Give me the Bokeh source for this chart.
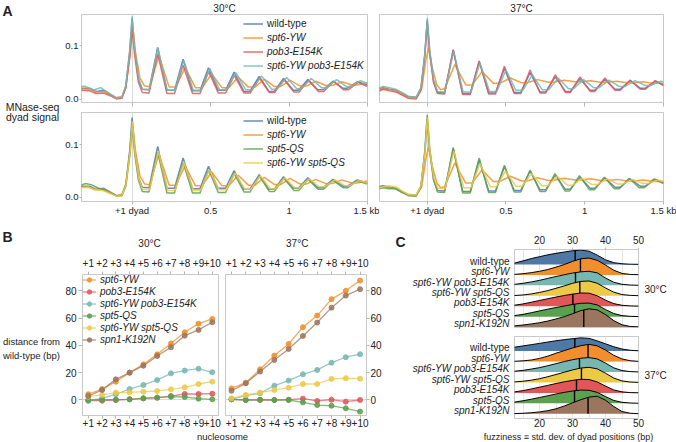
import numpy as np
from bokeh.plotting import figure
from bokeh.layouts import row, column
from bokeh.models import Range1d, FixedTicker, LinearAxis, Legend, LegendItem
from bokeh.core.properties import value
from bokeh.embed import file_html
from bokeh.resources import INLINE

FONT = "Liberation Sans"
TXT = "#222222"
FRAME = "#c9c9c9"
TICK = "#b5b5b5"
BLUE, ORANGE, RED, TEAL = "#4e79a7", "#f28e2b", "#e15759", "#76b7b2"
GREEN, YELLOW, BROWN = "#59a14f", "#edc948", "#9c755f"

# ---------------- Panel A data: (position in kb from +1 dyad, MNase-seq dyad signal)
wt_30 = [(-0.33,0.021),(-0.27,0.021),(-0.23,0.015),(-0.18,0.017),(-0.14,0.010),(-0.10,0.003),(-0.065,0.004),(-0.04,0.025),(-0.015,0.090),(0.0,0.152),(0.015,0.095),(0.04,0.038),(0.065,0.019),(0.108,0.018),(0.163,0.097),(0.222,0.017),(0.27,0.017),(0.325,0.075),(0.385,0.016),(0.432,0.016),(0.487,0.059),(0.548,0.017),(0.595,0.017),(0.65,0.051),(0.712,0.015),(0.75,0.015),(0.81,0.043),(0.872,0.015),(0.905,0.015),(0.965,0.039),(1.028,0.017),(1.06,0.017),(1.12,0.037),(1.183,0.018),(1.217,0.018),(1.28,0.034),(1.343,0.021),(1.372,0.021),(1.435,0.033),(1.5,0.027)]
pob3_30 = [(-0.33,0.017),(-0.27,0.016),(-0.23,0.011),(-0.18,0.012),(-0.14,0.007),(-0.10,0.001),(-0.065,0.002),(-0.04,0.022),(-0.015,0.080),(0.0,0.135),(0.015,0.085),(0.04,0.032),(0.065,0.013),(0.108,0.012),(0.163,0.085),(0.222,0.011),(0.27,0.011),(0.325,0.064),(0.385,0.011),(0.433,0.011),(0.488,0.052),(0.549,0.012),(0.596,0.012),(0.651,0.045),(0.713,0.012),(0.752,0.012),(0.812,0.040),(0.874,0.013),(0.908,0.013),(0.968,0.037),(1.031,0.014),(1.064,0.014),(1.124,0.036),(1.187,0.015),(1.221,0.015),(1.284,0.034),(1.347,0.018),(1.377,0.018),(1.44,0.032),(1.5,0.024)]
spt6_30 = [(-0.33,0.020),(-0.27,0.019),(-0.23,0.014),(-0.18,0.015),(-0.14,0.009),(-0.10,0.003),(-0.065,0.005),(-0.04,0.022),(-0.012,0.085),(0.004,0.138),(0.022,0.088),(0.05,0.040),(0.08,0.025),(0.112,0.024),(0.171,0.082),(0.236,0.023),(0.278,0.023),(0.338,0.060),(0.403,0.022),(0.447,0.022),(0.507,0.048),(0.572,0.022),(0.616,0.022),(0.676,0.042),(0.741,0.023),(0.783,0.023),(0.843,0.038),(0.908,0.024),(0.946,0.024),(1.006,0.036),(1.071,0.025),(1.11,0.025),(1.17,0.034),(1.235,0.026),(1.276,0.026),(1.336,0.033),(1.401,0.027),(1.434,0.027),(1.494,0.031),(1.5,0.031)]
spt6pob3_30 = [(-0.33,0.024),(-0.30,0.025),(-0.25,0.017),(-0.20,0.022),(-0.15,0.012),(-0.10,0.003),(-0.065,0.004),(-0.04,0.026),(-0.015,0.092),(0.0,0.155),(0.015,0.097),(0.04,0.040),(0.065,0.019),(0.109,0.018),(0.164,0.096),(0.224,0.017),(0.274,0.017),(0.329,0.073),(0.39,0.017),(0.438,0.017),(0.495,0.058),(0.557,0.018),(0.602,0.018),(0.661,0.050),(0.724,0.018),(0.765,0.018),(0.825,0.044),(0.889,0.019),(0.922,0.019),(0.985,0.041),(1.049,0.020),(1.079,0.020),(1.142,0.039),(1.206,0.022),(1.24,0.022),(1.303,0.037),(1.366,0.024),(1.392,0.024),(1.455,0.035),(1.5,0.030)]
spt5_30 = [(-0.33,0.022),(-0.30,0.026),(-0.26,0.024),(-0.22,0.018),(-0.18,0.014),(-0.14,0.008),(-0.10,0.003),(-0.065,0.003),(-0.04,0.022),(-0.015,0.083),(0.0,0.140),(0.015,0.087),(0.04,0.033),(0.065,0.011),(0.108,0.010),(0.163,0.086),(0.222,0.008),(0.27,0.008),(0.325,0.066),(0.385,0.008),(0.433,0.008),(0.488,0.052),(0.549,0.009),(0.596,0.009),(0.651,0.045),(0.713,0.010),(0.752,0.010),(0.812,0.040),(0.874,0.011),(0.907,0.011),(0.967,0.036),(1.03,0.013),(1.062,0.013),(1.122,0.034),(1.185,0.015),(1.218,0.015),(1.281,0.032),(1.344,0.018),(1.373,0.018),(1.436,0.031),(1.5,0.025)]
spt6spt5_30 = [(-0.33,0.018),(-0.28,0.019),(-0.24,0.014),(-0.19,0.013),(-0.14,0.007),(-0.10,0.002),(-0.065,0.003),(-0.04,0.022),(-0.013,0.086),(0.002,0.145),(0.017,0.090),(0.042,0.036),(0.067,0.015),(0.111,0.014),(0.167,0.088),(0.227,0.013),(0.274,0.013),(0.33,0.066),(0.391,0.013),(0.437,0.013),(0.493,0.052),(0.555,0.014),(0.6,0.014),(0.656,0.046),(0.719,0.015),(0.756,0.015),(0.817,0.041),(0.88,0.016),(0.912,0.016),(0.973,0.037),(1.036,0.018),(1.068,0.018),(1.129,0.035),(1.193,0.020),(1.229,0.020),(1.292,0.033),(1.356,0.022),(1.386,0.022),(1.448,0.032),(1.5,0.027)]

wt_37 = [(-0.31,0.020),(-0.28,0.022),(-0.24,0.019),(-0.20,0.017),(-0.16,0.011),(-0.12,0.005),(-0.07,0.004),(-0.04,0.020),(-0.015,0.085),(0.0,0.148),(0.015,0.090),(0.04,0.034),(0.065,0.013),(0.11,0.012),(0.165,0.092),(0.225,0.011),(0.273,0.011),(0.33,0.071),(0.39,0.012),(0.433,0.012),(0.49,0.058),(0.552,0.013),(0.594,0.013),(0.653,0.050),(0.716,0.014),(0.752,0.014),(0.813,0.042),(0.877,0.015),(0.908,0.015),(0.97,0.038),(1.034,0.017),(1.065,0.017),(1.128,0.037),(1.192,0.019),(1.225,0.019),(1.288,0.035),(1.352,0.021),(1.385,0.021),(1.448,0.034),(1.5,0.027)]
pob3_37 = [(-0.31,0.015),(-0.28,0.019),(-0.24,0.016),(-0.20,0.014),(-0.16,0.008),(-0.12,0.002),(-0.07,0.001),(-0.04,0.017),(-0.015,0.082),(0.0,0.145),(0.015,0.088),(0.04,0.032),(0.065,0.011),(0.11,0.010),(0.165,0.093),(0.225,0.009),(0.273,0.009),(0.33,0.072),(0.39,0.010),(0.433,0.010),(0.49,0.062),(0.552,0.011),(0.594,0.011),(0.653,0.055),(0.716,0.012),(0.752,0.012),(0.813,0.046),(0.877,0.013),(0.908,0.013),(0.97,0.042),(1.034,0.015),(1.065,0.015),(1.128,0.040),(1.192,0.017),(1.225,0.017),(1.288,0.036),(1.352,0.019),(1.385,0.019),(1.448,0.035),(1.5,0.026)]
spt6_37 = [(-0.31,0.017),(-0.28,0.020),(-0.24,0.018),(-0.20,0.016),(-0.16,0.010),(-0.12,0.004),(-0.07,0.003),(-0.035,0.020),(-0.01,0.070),(0.008,0.096),(0.03,0.062),(0.06,0.028),(0.085,0.018),(0.11,0.020),(0.175,0.065),(0.245,0.027),(0.285,0.027),(0.348,0.052),(0.42,0.030),(0.46,0.030),(0.528,0.040),(0.6,0.031),(0.635,0.031),(0.70,0.037),(0.77,0.032),(0.80,0.032),(0.87,0.036),(0.94,0.033),(0.97,0.033),(1.035,0.035),(1.10,0.032),(1.14,0.032),(1.205,0.034),(1.27,0.031),(1.305,0.031),(1.37,0.033),(1.44,0.030),(1.5,0.030)]
spt6pob3_37 = [(-0.31,0.021),(-0.28,0.024),(-0.24,0.022),(-0.20,0.019),(-0.16,0.013),(-0.12,0.006),(-0.07,0.004),(-0.04,0.022),(-0.014,0.088),(0.001,0.152),(0.016,0.092),(0.041,0.036),(0.066,0.015),(0.112,0.014),(0.168,0.090),(0.228,0.014),(0.278,0.014),(0.335,0.068),(0.396,0.015),(0.442,0.015),(0.5,0.055),(0.563,0.017),(0.607,0.017),(0.667,0.046),(0.731,0.018),(0.771,0.018),(0.832,0.040),(0.897,0.020),(0.93,0.020),(0.992,0.037),(1.057,0.022),(1.092,0.022),(1.155,0.036),(1.22,0.024),(1.255,0.024),(1.319,0.035),(1.384,0.026),(1.418,0.026),(1.482,0.034),(1.5,0.033)]
spt5_37 = [(-0.31,0.016),(-0.28,0.018),(-0.24,0.016),(-0.20,0.016),(-0.16,0.009),(-0.12,0.003),(-0.07,0.002),(-0.04,0.020),(-0.015,0.090),(0.0,0.157),(0.015,0.095),(0.04,0.034),(0.065,0.010),(0.11,0.009),(0.165,0.095),(0.225,0.008),(0.273,0.008),(0.33,0.075),(0.39,0.009),(0.433,0.009),(0.49,0.061),(0.552,0.010),(0.594,0.010),(0.653,0.052),(0.716,0.011),(0.751,0.011),(0.811,0.045),(0.874,0.012),(0.905,0.012),(0.966,0.041),(1.03,0.014),(1.061,0.014),(1.124,0.038),(1.188,0.016),(1.22,0.016),(1.282,0.036),(1.346,0.018),(1.378,0.018),(1.44,0.035),(1.5,0.026)]
spt6spt5_37 = [(-0.31,0.017),(-0.28,0.020),(-0.24,0.022),(-0.20,0.020),(-0.16,0.012),(-0.12,0.005),(-0.07,0.004),(-0.04,0.022),(-0.014,0.088),(0.001,0.152),(0.016,0.092),(0.041,0.038),(0.068,0.017),(0.113,0.016),(0.169,0.088),(0.232,0.018),(0.277,0.018),(0.335,0.064),(0.4,0.020),(0.44,0.020),(0.497,0.050),(0.562,0.021),(0.603,0.021),(0.662,0.045),(0.727,0.022),(0.765,0.022),(0.825,0.040),(0.89,0.023),(0.922,0.023),(0.982,0.036),(1.047,0.024),(1.08,0.024),(1.143,0.035),(1.208,0.025),(1.24,0.025),(1.304,0.034),(1.37,0.026),(1.4,0.026),(1.464,0.033),(1.5,0.030)]

a_ticks = [0, 0.5, 1, 1.5]
a_tick_labels = {0: "+1 dyad", 0.5: "0.5", 1: "1", 1.5: "1.5 kb"}
a_blank_labels = {0: "", 0.5: "", 1: "", 1.5: ""}
a_yticks = [0, 0.1]
a_ytick_labels = {0: "0.0", 0.1: "0.1"}

# ---------------- Panel B data: distance from wild-type (bp) per nucleosome
b_nuc = [1, 2, 3, 4, 5, 6, 7, 8, 9, 10]
b_nuc_labels = {i: "+%d" % i for i in b_nuc}
b_yticks = [0, 20, 40, 60, 80]
b30_spt6 = [4.2, 8.0, 13.4, 20.0, 26.1, 33.4, 41.3, 49.6, 55.9, 59.3]
b30_pob3 = [-0.5, -0.5, 0.0, 0.5, 1.2, 1.7, 2.9, 4.4, 4.4, 4.6]
b30_spt6pob3 = [-0.5, 1.2, 4.2, 8.0, 11.0, 14.6, 19.5, 21.5, 22.9, 20.3]
b30_spt5 = [0.0, 0.2, 0.2, 0.5, 1.2, 1.7, 2.4, 2.2, 1.0, 0.5]
b30_spt6spt5 = [2.4, 3.7, 5.4, 5.6, 6.1, 6.6, 7.8, 9.3, 11.7, 13.4]
b30_spn1 = [2.9, 7.3, 15.1, 20.0, 25.1, 32.2, 38.6, 47.1, 51.3, 56.9]
b37_spt6 = [8.5, 12.7, 22.5, 32.5, 41.0, 53.3, 61.8, 73.8, 79.9, 87.4]
b37_pob3 = [0.5, 0.0, 0.0, 0.0, 0.2, 1.0, -0.7, 0.2, -1.2, 0.0]
b37_spt6pob3 = [0.7, 3.2, 4.9, 10.5, 14.2, 18.8, 22.0, 27.3, 31.3, 33.5]
b37_spt5 = [0.5, 0.0, 0.2, 0.0, 0.0, -1.7, -3.7, -4.2, -6.1, -8.5]
b37_spt6spt5 = [1.2, 3.7, 5.4, 7.3, 9.0, 11.7, 11.7, 15.4, 15.9, 15.6]
b37_spn1 = [6.8, 12.2, 20.8, 29.3, 37.4, 46.9, 56.7, 67.6, 76.4, 81.1]
b_names = ["spt6-YW", "pob3-E154K", "spt6-YW pob3-E154K", "spt5-QS", "spt6-YW spt5-QS", "spn1-K192N"]
b_colors = [ORANGE, RED, TEAL, GREEN, YELLOW, BROWN]

# ---------------- Panel C data: fuzziness density ridges (height in row units)
c_x = [12, 15, 17.5, 20, 22.5, 25, 27.5, 30, 32.5, 35, 37.5, 40, 42.5, 45, 47.5, 50]
c_names = ["wild-type", "spt6-YW", "spt6-YW pob3-E154K", "spt6-YW spt5-QS", "pob3-E154K", "spt5-QS", "spn1-K192N"]
c_colors = [BLUE, ORANGE, TEAL, YELLOW, RED, GREEN, BROWN]
c_ticks = [20, 30, 40, 50]
c30_wt = [0.10, 0.35, 0.57, 0.75, 0.93, 1.07, 1.20, 1.32, 1.38, 1.28, 0.90, 0.45, 0.18, 0.07, 0.03, 0.02]
c30_spt6 = [0.04, 0.12, 0.22, 0.35, 0.52, 0.75, 1.00, 1.30, 1.55, 1.62, 1.40, 0.95, 0.45, 0.15, 0.05, 0.02]
c30_spt6pob3 = [0.08, 0.20, 0.33, 0.48, 0.67, 0.85, 1.02, 1.18, 1.30, 1.35, 1.20, 0.70, 0.30, 0.10, 0.03, 0.01]
c30_spt6spt5 = [0.02, 0.08, 0.18, 0.32, 0.50, 0.72, 0.95, 1.20, 1.38, 1.42, 1.20, 0.75, 0.35, 0.12, 0.04, 0.01]
c30_pob3 = [0.08, 0.22, 0.38, 0.55, 0.72, 0.88, 1.03, 1.16, 1.27, 1.25, 1.00, 0.58, 0.25, 0.09, 0.03, 0.01]
c30_spt5 = [0.08, 0.22, 0.38, 0.55, 0.72, 0.88, 1.02, 1.17, 1.28, 1.30, 1.12, 0.68, 0.30, 0.10, 0.03, 0.01]
c30_spn1 = [0.10, 0.20, 0.30, 0.42, 0.58, 0.78, 1.00, 1.28, 1.58, 1.75, 1.65, 1.20, 0.62, 0.22, 0.06, 0.02]
c37_wt = [0.36, 0.50, 0.62, 0.74, 0.87, 0.99, 1.10, 1.19, 1.27, 1.22, 0.98, 0.70, 0.42, 0.20, 0.08, 0.03]
c37_spt6 = [0.02, 0.07, 0.15, 0.30, 0.52, 0.80, 1.05, 1.30, 1.52, 1.65, 1.50, 1.10, 0.60, 0.25, 0.08, 0.02]
c37_spt6pob3 = [0.06, 0.16, 0.28, 0.42, 0.60, 0.80, 1.00, 1.18, 1.32, 1.38, 1.25, 0.85, 0.40, 0.14, 0.04, 0.01]
c37_spt6spt5 = [0.04, 0.12, 0.22, 0.36, 0.55, 0.76, 0.98, 1.20, 1.38, 1.45, 1.30, 0.88, 0.42, 0.15, 0.04, 0.01]
c37_pob3 = [0.08, 0.22, 0.38, 0.55, 0.72, 0.90, 1.06, 1.20, 1.30, 1.28, 1.05, 0.65, 0.28, 0.10, 0.03, 0.01]
c37_spt5 = [0.10, 0.25, 0.40, 0.56, 0.73, 0.90, 1.05, 1.18, 1.27, 1.25, 1.05, 0.65, 0.28, 0.10, 0.03, 0.01]
c37_spn1 = [0.01, 0.05, 0.10, 0.18, 0.30, 0.48, 0.75, 1.05, 1.35, 1.60, 1.68, 1.30, 0.70, 0.22, 0.05, 0.01]
c30_median = [30.8, 32.4, 30.9, 32.2, 30.1, 30.6, 33.4]
c37_median = [30.7, 34.7, 32.1, 32.7, 31.2, 30.6, 34.7]


def fig(w, h, left, right, top, bottom, xr, yr, xloc="below", yloc="left"):
    p = figure(width=w, height=h, x_range=Range1d(*xr), y_range=Range1d(*yr),
               min_border_left=left, min_border_right=right, min_border_top=top,
               min_border_bottom=bottom, x_axis_location=xloc, y_axis_location=yloc,
               output_backend="svg", toolbar_location=None)
    p.outline_line_color = FRAME
    p.outline_line_width = 1
    p.xgrid.grid_line_color = None
    p.ygrid.grid_line_color = None
    p.background_fill_color = "white"
    p.border_fill_color = "white"
    return p


def tfig(w, h):
    # text-only panel: its frame is the whole box, coordinates in pixels from top-left
    p = figure(width=w, height=h, x_range=Range1d(0, w), y_range=Range1d(h, 0), min_border=0,
               x_axis_location=None, y_axis_location=None, output_backend="svg",
               toolbar_location=None)
    p.outline_line_color = None
    p.xgrid.visible = False
    p.ygrid.visible = False
    p.border_fill_color = "white"
    return p


def put(p, xs, ys, texts, size="10px", style="normal", align="center"):
    p.text(x=xs, y=ys, text=texts, text_font=value(FONT), text_font_size=value(size),
           text_font_style=value(style), text_align=value(align), text_baseline=value("middle"),
           text_color=TXT)


def style_axis(ax, ticks, labels=None, tick_out=3, standoff=2, size="10px"):
    ax.ticker = FixedTicker(ticks=ticks)
    if labels is not None:
        ax.major_label_overrides = labels
    ax.axis_line_color = None
    ax.major_tick_line_color = TICK
    ax.major_tick_out = tick_out
    ax.major_tick_in = 0
    ax.minor_tick_line_color = None
    ax.major_label_standoff = standoff
    ax.major_label_text_font = FONT
    ax.major_label_text_font_size = size
    ax.major_label_text_color = TXT


def legend(items, loc, style, glyph_w, h, spacing):
    return Legend(items=items, location=loc, padding=0, margin=0, spacing=spacing,
                  glyph_width=glyph_w, glyph_height=h, label_height=h, label_standoff=4,
                  border_line_color=None, background_fill_alpha=0,
                  label_text_font=FONT, label_text_font_size="10px",
                  label_text_font_style=style, label_text_color=TXT)


# ---------------- Panel A
XA_L = (-0.3225, 1.5)
XA_R = (-0.303, 1.5)
YA_T = (-0.0057, 0.1585)
YA_B = (-0.0082, 0.1616)


def a_panel(p, curves, names, colors, yaxis, xlabels, leg_y):
    p.xgrid.ticker = FixedTicker(ticks=[0])
    p.xgrid.grid_line_color = "#d9d9d9"
    if xlabels:
        style_axis(p.xaxis[0], a_ticks, a_tick_labels, tick_out=3, standoff=0, size="9.5px")
    else:
        style_axis(p.xaxis[0], a_ticks, a_blank_labels, tick_out=4, standoff=0, size="1px")
    if yaxis:
        style_axis(p.yaxis[0], a_yticks, a_ytick_labels, tick_out=2, standoff=1, size="9.5px")
    rs = []
    for c, col in zip(curves, colors):
        rs.append(p.line([q[0] for q in c], [q[1] for q in c], line_color=col,
                         line_width=1.5, line_alpha=0.85))
    if leg_y is not None:
        p.add_layout(legend([LegendItem(label=names[0], renderers=[rs[0]])],
                            (162, leg_y[0]), "normal", 20, 13, 1))
        p.add_layout(legend([LegendItem(label=n, renderers=[r]) for n, r in zip(names[1:], rs[1:])],
                            (162, leg_y[1]), "italic", 20, 13, 1))


names_top = ["wild-type", "spt6-YW", "pob3-E154K", "spt6-YW pob3-E154K"]
names_bot = ["wild-type", "spt6-YW", "spt5-QS", "spt6-YW spt5-QS"]

a1 = fig(317, 94, 19, 12, 0, 6, XA_L, YA_T)
a_panel(a1, [wt_30, spt6_30, pob3_30, spt6pob3_30], names_top, [BLUE, ORANGE, RED, TEAL], True, False, (71.8, 29.8))
a2 = fig(297, 94, 0, 13, 0, 6, XA_R, YA_T, yloc=None)
a_panel(a2, [wt_37, spt6_37, pob3_37, spt6pob3_37], names_top, [BLUE, ORANGE, RED, TEAL], False, False, None)
a3 = fig(317, 114, 19, 12, 4, 21, XA_L, YA_B)
a_panel(a3, [wt_30, spt6_30, spt5_30, spt6spt5_30], names_bot, [BLUE, ORANGE, GREEN, YELLOW], True, True, (74.5, 32.5))
a4 = fig(297, 114, 0, 13, 4, 21, XA_R, YA_B, yloc=None)
a_panel(a4, [wt_37, spt6_37, spt5_37, spt6spt5_37], names_bot, [BLUE, ORANGE, GREEN, YELLOW], False, True, None)

left_a = tfig(62, 222)
put(left_a, [7], [10], ["A"], size="14px", style="bold")
put(left_a, [32], [106], ["MNase-seq"], size="10.5px")
put(left_a, [32], [116.5], ["dyad signal"], size="10.5px")
head_a = tfig(614, 14)
put(head_a, [162, 459], [8], ["30°C", "37°C"]) if False else put(head_a, [162, 459], [8.2, 8.2], ["30°C", "37°C"])

# ---------------- Panel B
XB = (0.58, 10.45)
YB = (-11.35, 91.86)


def b_panel(p, series, side, with_legend):
    p.ygrid.ticker = FixedTicker(ticks=[0])
    p.ygrid.grid_line_color = "#d9d9d9"
    style_axis(p.xaxis[0], b_nuc, b_nuc_labels, tick_out=3, standoff=0)
    top_ax = LinearAxis()
    p.add_layout(top_ax, "above")
    style_axis(top_ax, b_nuc, b_nuc_labels, tick_out=3, standoff=5)
    style_axis(p.yaxis[0], b_yticks, None, tick_out=4 if side == "left" else 3,
               standoff=2 if side == "left" else 1)
    items = []
    for vals, col, nm in zip(series, b_colors, b_names):
        r1 = p.line(b_nuc, vals, line_color=col, line_width=1.3, line_alpha=0.75)
        r2 = p.scatter(b_nuc, vals, size=5, fill_color=col, line_color=col, alpha=0.85)
        items.append(LegendItem(label=nm, renderers=[r1, r2]))
    if with_legend:
        L = legend(items, "top_left", "italic", 14, 11, 1)
        L.padding = 1
        p.add_layout(L)


b1 = fig(160, 181, 18, 4, 25, 15, XB, YB)
b_panel(b1, [b30_spt6, b30_pob3, b30_spt6pob3, b30_spt5, b30_spt6spt5, b30_spn1], "left", True)
b2 = fig(166, 181, 3, 22, 25, 15, XB, YB, yloc="right")
b_panel(b2, [b37_spt6, b37_pob3, b37_spt6pob3, b37_spt5, b37_spt6spt5, b37_spn1], "right", False)

left_b = tfig(62, 220)
put(left_b, [7], [14.7], ["B"], size="14px", style="bold")
put(left_b, [31], [119], ["distance from"], size="9.5px")
put(left_b, [31], [133], ["wild-type (bp)"], size="9.5px")
head_b = tfig(326, 27)
put(head_b, [87, 234.7], [21, 21], ["30°C", "37°C"])
foot_b = tfig(326, 12)
put(foot_b, [160], [6], ["nucleosome"], size="9.5px")

# ---------------- Panel C
XC = (12.4, 50)
YC_T = (-0.04, 7.44)
YC_B = (-0.45, 7.40)
C_FRAMES = [(249 - 222, 78), (336 - 222, 82)]   # (frame top within label panel, frame height)


def c_panel(p, dens, medians, temp, temp_y, axis_out, axis_standoff):
    p.xgrid.ticker = FixedTicker(ticks=[15, 20, 25, 30, 35, 40, 45])
    p.xgrid.grid_line_color = "#e6e6e6"
    style_axis(p.xaxis[0], c_ticks, None, tick_out=axis_out, standoff=axis_standoff)
    ry = p.yaxis[0]
    style_axis(ry, [temp_y], {temp_y: temp}, tick_out=0, standoff=6)
    ry.major_tick_line_color = None
    n = len(dens)
    for i, (d, m, col) in enumerate(zip(dens, medians, c_colors)):
        base = n - 1 - i
        top = [base + v for v in d]
        p.varea(x=c_x, y1=[base] * len(c_x), y2=top, fill_color=col)
        p.line(c_x, top, line_color="black", line_width=1)
        mh = float(np.interp(m, c_x, d))
        p.segment(x0=[m], y0=[base], x1=[m], y1=[base + mh], line_color="black", line_width=1.4)


c1 = fig(164, 111, 2, 38, 27, 6, XC, YC_T, xloc="above", yloc="right")
c_panel(c1, [c30_wt, c30_spt6, c30_spt6pob3, c30_spt6spt5, c30_pob3, c30_spt5, c30_spn1],
        c30_median, "30°C", 3.6, 2, 4)
c2 = fig(164, 97, 2, 38, 3, 12, XC, YC_B, xloc="below", yloc="right")
c_panel(c2, [c37_wt, c37_spt6, c37_spt6pob3, c37_spt6spt5, c37_pob3, c37_spt5, c37_spn1],
        c37_median, "37°C", 3.65, 0, 0)

# row labels to the left of the ridges, aligned with each ridge's baseline
lab_c = tfig(124, 208)
put(lab_c, [12], [19.7], ["C"], size="14px", style="bold")
for yr, (ftop, fh) in zip([YC_T, YC_B], C_FRAMES):
    n = len(c_names)
    ys = [ftop + (yr[1] - (n - 1 - i)) / (yr[1] - yr[0]) * fh - 3.3 for i in range(n)]
    put(lab_c, [121], [ys[0]], [c_names[0]], align="right")
    put(lab_c, [121] * (n - 1), ys[1:], c_names[1:], style="italic", align="right")
foot_c = tfig(288, 12)
put(foot_c, [180], [6], ["fuzziness \u2261 std. dev. of dyad positions (bp)"], size="9px")

layout = column(
    row(left_a, column(head_a, row(a1, a2), row(a3, a4))),
    row(left_b, column(head_b, row(b1, b2), foot_b), column(row(lab_c, column(c1, c2)), foot_c)),
)
open("out.html", "w").write(file_html(layout, INLINE))
